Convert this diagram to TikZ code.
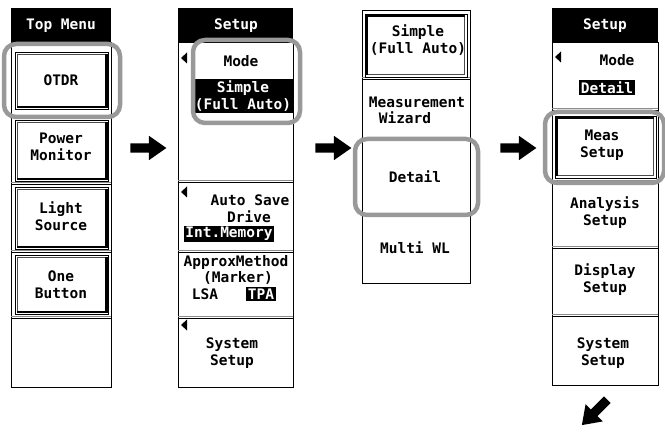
\documentclass[tikz,border=0pt]{standalone}
\usepackage{fontspec}
\newfontfamily\lcd{DejaVu Sans Mono}
\usetikzlibrary{shapes.arrows}
\newcommand\raisedbtn[4]{%
  \draw[line width=0.6pt] (#1,#2) rectangle (#3,#4);
  \draw[line width=0.5pt, black!70] ({#1+2.5},{#4-3}) -- ({#1+2.5},{#2+2.5}) -- ({#3-3},{#2+2.5});
  \draw[line width=2.6pt] ({#1+2},{#4-1.8}) -- ({#3-1.8},{#4-1.8}) -- ({#3-1.8},{#2+2});}
\newcommand\pressedbtn[4]{%
  \draw[line width=0.6pt] (#1,#2) rectangle (#3,#4);
  \draw[line width=0.5pt, black!70] ({#1+3},{#4-2.5}) -- ({#3-2.5},{#4-2.5}) -- ({#3-2.5},{#2+3});
  \draw[line width=2.6pt] ({#1+1.8},{#4-2}) -- ({#1+1.8},{#2+1.8}) -- ({#3-2},{#2+1.8});}
\newcommand\sepline[3]{%
  \draw[line width=0.7pt, black!45] (#1,{#3-1.8}) -- (#2,{#3-1.8});
  \draw[line width=0.8pt] (#1,#3) -- (#2,#3);}
\newcommand\lefttri[2]{\fill ({#1+6},{#2-5.5}) -- ({#1+6},{#2+5.5}) -- (#1,#2) -- cycle;}
\begin{document}
\begin{tikzpicture}[x=1pt,y=-1pt,
  lbl/.style={font=\lcd\bfseries\fontsize{14.5}{17}\selectfont, align=center, inner sep=0pt},
  hdrtxt/.style={lbl, text=white},
  inv/.style={lbl, fill=black, text=white, inner xsep=1.5pt, inner ysep=1.5pt},
  panel/.style={draw=black, line width=0.8pt},
  hl/.style={draw=black!40, line width=4.5pt, rounded corners=12pt},
  barrow/.style={single arrow, fill=black, draw=none, minimum height=36pt,
    inner sep=4.5pt, single arrow head extend=7.5pt, single arrow tip angle=70}]
\useasboundingbox (0,0) rectangle (665,435);

% ---------- Panel 1: Top Menu ----------
\fill (11,8) rectangle (111,42);
\node[hdrtxt] (p1h) at (61,26) {Top Menu};
\draw[panel] (11,42) rectangle (111,387);
\sepline{11}{111}{117}
\sepline{11}{111}{184}
\sepline{11}{111}{252}
\sepline{11}{111}{318}
\raisedbtn{15}{52}{108}{109}
\raisedbtn{15}{120}{108}{181}
\raisedbtn{15}{187}{108}{249}
\raisedbtn{15}{255}{108}{314}
\node[lbl] (otdr) at (61,80) {OTDR};
\node[lbl] (pm) at (61,147) {Power\\Monitor};
\node[lbl] (ls) at (61,216) {Light\\Source};
\node[lbl] (ob) at (61,285) {One\\Button};
\draw[hl] (4,44) rectangle (120,117);

% ---------- Panel 2: Setup ----------
\fill (178,8) rectangle (293,42);
\node[hdrtxt] (p2h) at (236,26) {Setup};
\draw[panel] (178,42) rectangle (293,387);
\sepline{178}{293}{182}
\sepline{178}{293}{252}
\sepline{178}{293}{318}
\lefttri{181}{58}
\node[lbl] (p2mode) at (241,61) {Mode};
\node[inv] (p2simple) at (243,96) {Simple\\(Full Auto)};
\draw[hl] (193,40) rectangle (300,123);
\lefttri{181}{192}
\node[lbl] (p2as) at (250,200) {Auto Save};
\node[lbl] (p2dr) at (249,217) {Drive};
\node[inv] (p2im) at (229,234) {Int.Memory};
\node[lbl] (p2am) at (236,263) {ApproxMethod};
\node[lbl] (p2mk) at (238,278) {(Marker)};
\node[lbl] (p2lsa) at (205,294) {LSA};
\node[inv] (p2tpa) at (261,294) {TPA};
\lefttri{181}{325}
\node[lbl] (p2sys) at (232,353) {System\\Setup};

% ---------- Panel 3: Mode list ----------
\draw[panel] (362,10) rectangle (470,283);
\sepline{362}{470}{79}
\pressedbtn{365}{14}{467}{77}
\node[lbl] (p3simple) at (418,40) {Simple\\(Full Auto)};
\node[lbl] (p3meas) at (417,102) {Measurement};
\node[lbl] (p3wiz) at (405,118) {Wizard};
\node[lbl] (p3det) at (415,177) {Detail};
\node[lbl] (p3mwl) at (415,248) {Multi WL};
\draw[hl] (355,139) rectangle (478,215);

% ---------- Panel 4: Setup (Detail) ----------
\fill (552,8) rectangle (658,42);
\node[hdrtxt] (p4h) at (605,26) {Setup};
\draw[panel] (552,42) rectangle (658,385);
\sepline{552}{658}{110}
\sepline{552}{658}{182}
\sepline{552}{658}{248}
\sepline{552}{658}{316}
\lefttri{555}{57}
\node[lbl] (p4mode) at (617,60) {Mode};
\node[inv] (p4det) at (607,88) {Detail};
\pressedbtn{555}{116}{656}{178}
\node[lbl] (p4meas) at (602,145) {Meas\\Setup};
\draw[hl] (545,112) rectangle (664,183);
\node[lbl] (p4an) at (605,213) {Analysis\\Setup};
\node[lbl] (p4dis) at (605,280) {Display\\Setup};
\node[lbl] (p4sys) at (603,353) {System\\Setup};

% ---------- Arrows ----------
\node[barrow] (a1) at (145,148) {};
\node[barrow] (a2) at (330,148) {};
\node[barrow] (a3) at (515,148) {};
\node[barrow, rotate=225, minimum height=36pt] (a4) at (597,410) {};
\end{tikzpicture}
\end{document}
